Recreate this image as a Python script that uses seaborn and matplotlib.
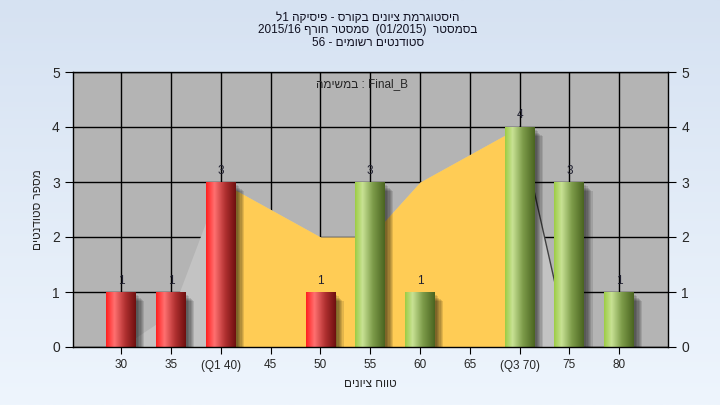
import re
import numpy as np
import pandas as pd
import matplotlib
matplotlib.use("Agg")
import matplotlib.pyplot as plt
import seaborn as sns
from matplotlib.colors import LinearSegmentedColormap
from matplotlib.patches import Rectangle

# data
grades = [30, 35, 40, 45, 50, 55, 60, 65, 70, 75, 80]
tick_labels = ["30", "35", "(Q1 40)", "45", "50", "55", "60", "65", "(Q3 70)", "75", "80"]
counts = [1, 1, 3, 0, 1, 3, 1, 0, 4, 3, 1]
trend = [0, 0.6, 3, 2.5, 2, 2, 3, 3.5, 4, 0, 0]
group = ["low", "low", "low", "low", "low", "high", "high", "high", "high", "high", "high"]
q1_idx, q3_idx = 2, 8

title_lines = ["היסטוגרמת ציונים בקורס - פיסיקה 1ל",
               "בסמסטר  (01/2015)  סמסטר חורף 2015/16",
               "סטודנטים רשומים - 56"]
x_title = "טווח ציונים"
y_title = "מספר סטודנטים"
task_word = "במשימה"
task_name = "Final_B"


def vis(s):
    # matplotlib has no bidi: put RTL text in visual order
    toks = re.findall(r"[0-9A-Za-z_/.]+|.", s)
    mirror = {"(": ")", ")": "("}
    return "".join(mirror.get(t, t) for t in reversed(toks))


df = pd.DataFrame({"label": tick_labels, "count": counts, "group": group})

sns.set_style("white")
plt.rcParams["font.family"] = ["Liberation Sans", "DejaVu Sans"]

fig = plt.figure(figsize=(7.2, 4.05), dpi=100)

# light blue background gradient
bg = fig.add_axes([0, 0, 1, 1], zorder=-10)
bg_cmap = LinearSegmentedColormap.from_list("bg", ["#d6e2f2", "#eef5fd"])
bg.imshow(np.linspace(0, 1, 256).reshape(-1, 1), aspect="auto", cmap=bg_cmap,
          extent=[0, 1, 0, 1])
bg.axis("off")

ax = fig.add_axes([73 / 720, 58 / 405, 595 / 720, 275 / 405])
ax.set_facecolor("#b4b4b4")

xs = np.arange(len(grades))
# area behind the bars
ax.fill_between(xs, trend, color="#c3c3c3", lw=0, zorder=1)
ax.fill_between(xs[q1_idx:q3_idx + 1], trend[q1_idx:q3_idx + 1],
                color="#ffcc55", lw=0, zorder=1.1)
ax.plot(xs[q3_idx:q3_idx + 2], trend[q3_idx:q3_idx + 2], color="#404040", lw=1, zorder=1.2)

sns.barplot(data=df, x="label", y="count", hue="group", order=tick_labels,
            palette={"low": "#d02020", "high": "#8ab040"}, dodge=False,
            width=0.6, legend=False, ax=ax, zorder=2, linewidth=0, edgecolor="none")

red_cmap = LinearSegmentedColormap.from_list(
    "red", [(0, "#ff1f1f"), (0.28, "#ff7070"), (0.65, "#b03030"), (1, "#6e0f0f")])
green_cmap = LinearSegmentedColormap.from_list(
    "green", [(0, "#9ccc44"), (0.25, "#c8e294"), (0.6, "#7d9c4a"), (1, "#4a6420")])
grad = np.linspace(0, 1, 128).reshape(1, -1)

for patch, g in zip(list(ax.patches), group):
    h = patch.get_height()
    if h <= 0:
        continue
    patch.set_linewidth(0)
    x0, w = patch.get_x(), patch.get_width()
    # soft shadow
    for k in range(6):
        ax.add_patch(Rectangle((x0 + 0.04 + 0.025 * k, 0), w, h - 0.06 - 0.02 * k,
                               color="black", alpha=0.11, lw=0, zorder=1.5))
    im = ax.imshow(grad, aspect="auto", cmap=red_cmap if g == "low" else green_cmap,
                   extent=[x0, x0 + w, 0, h], zorder=2.5)
    im.set_clip_path(patch)
    ax.text(x0 + w / 2, h + 0.1, str(int(h)), ha="center", va="bottom",
            fontsize=8.5, color="#202030", zorder=4)

ax.set_xlim(-0.97, 10.98)
ax.set_ylim(0, 5)
ax.set_yticks(range(6))
ax.set_xticks(xs)
ax.set_xticklabels(tick_labels)
ax.grid(True, color="black", lw=1)
ax.set_axisbelow(True)
ax.tick_params(axis="y", which="both", direction="out", length=6, color="black",
               labelsize=10, left=True)
ax.tick_params(axis="x", direction="out", length=5, color="black", labelsize=8.5,
               bottom=True, pad=4)
for s in ax.spines.values():
    s.set_color("black")
    s.set_linewidth(1)
ax.set_xlabel(vis(x_title), fontsize=8.5, labelpad=5)
ax.set_ylabel(vis(y_title), fontsize=8.5, labelpad=6)

ax2 = ax.twinx()
ax2.set_ylim(0, 5)
ax2.set_yticks(range(6))
ax2.tick_params(axis="y", direction="out", length=6, color="black", labelsize=10, right=True)
ax2.grid(False)
for s in ax2.spines.values():
    s.set_visible(False)

ax.text(0.485, 0.955, vis(task_word) + " : " + task_name, transform=ax.transAxes,
        ha="center", va="center", fontsize=8.5, zorder=5)

for i, line in enumerate(title_lines):
    fig.text(368 / 720, 1 - (18 + 12.5 * i) / 405, vis(line), ha="center", va="center",
             fontsize=8.5, color="#101020")

fig.savefig("out.png", dpi=100)
